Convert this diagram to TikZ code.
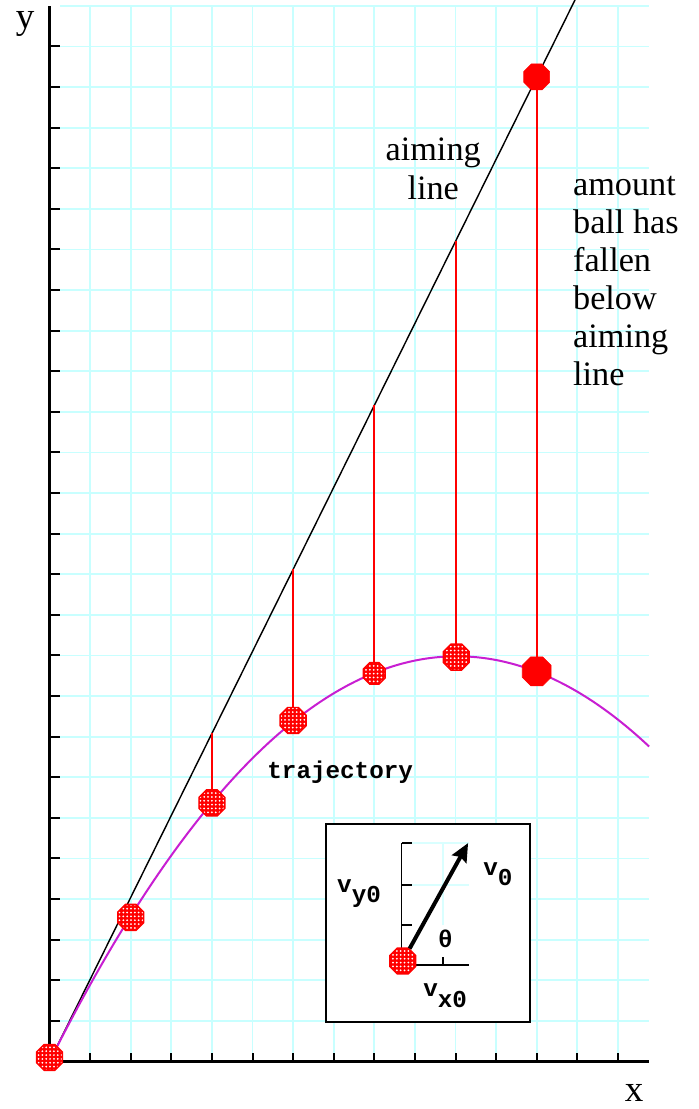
\documentclass[tikz,border=0pt]{standalone}
\usepackage{fontspec}
\setmainfont{Liberation Serif}
\newfontfamily\monof{Liberation Mono}
\usetikzlibrary{shapes.geometric,arrows.meta,patterns.meta}
\definecolor{gridcyan}{HTML}{C8FFFF}
\definecolor{trajcol}{HTML}{C81ED2}
\definecolor{ballred}{HTML}{FF0000}
\begin{document}
\begin{tikzpicture}[x=1cm,y=1cm,
  gridline/.style={draw=gridcyan, line width=1.3pt},
  minigrid/.style={draw=gridcyan!70, line width=1pt},
  axisline/.style={draw=black, line width=1.6pt},
  tickmark/.style={draw=black, line width=1.4pt},
  smallaxis/.style={draw=black, line width=1pt},
  ball/.style={shape=regular polygon, regular polygon sides=8, minimum size=0.69cm, inner sep=0pt,
    preaction={fill=ballred}, pattern={Dots[distance=2.7pt,radius=0.7pt]}, pattern color=white,
    draw=ballred, line width=1pt},
  solidball/.style={shape=regular polygon, regular polygon sides=8, minimum size=0.69cm, inner sep=0pt,
    draw=ballred, fill=ballred},
  drop/.style={draw=ballred, line width=1.4pt},
  aimline/.style={draw=black, line width=1pt},
  trajline/.style={draw=trajcol, line width=1.4pt},
  serif/.style={font=\fontsize{24}{26.6}\selectfont, inner sep=0pt},
  axislabel/.style={font=\fontsize{26}{30}\selectfont, inner sep=0pt},
  mono/.style={font=\monof\bfseries\fontsize{17}{20}\selectfont, inner sep=0pt},
]
\useasboundingbox (-1.2192,-1.170) rectangle (15.973,26.145);
\fill[white] (-1.2192,-1.170) rectangle (15.973,26.145);

% grid
\foreach \i in {1,...,14} \draw[gridline] (\i,0) -- (\i,26);
\foreach \j in {1,...,26} \draw[gridline] (0.27,\j) -- (14.77,\j);

% axes
\coordinate (O) at (0,0);
\coordinate (ytop) at (0,26);
\coordinate (xend) at (14.77,0);
\draw[axisline] (O) -- (ytop);
\draw[axisline] (O) -- (xend);
\foreach \j in {1,...,25} \draw[tickmark] (0,\j) -- ++(0.25,0);
\foreach \i in {1,...,14} \draw[tickmark] (\i,0) -- ++(0,0.2);
\node[axislabel] (ylab) at (-0.6,25.55) {y};
\node[axislabel] (xlab) at (14.4,-0.78) {x};

% aiming line and trajectory
\coordinate (aimtop) at (12.943,26.145);
\draw[aimline] (O) -- (aimtop);
\draw[trajline] plot[domain=0:14.77, samples=150] (\x,{1.9894*\x-0.09913*\x*\x});

% points on the aiming line and on the trajectory
\coordinate (a4) at (4,8.08);
\coordinate (a6) at (6,12.12);
\coordinate (a8) at (8,16.16);
\coordinate (a10) at (10.02,20.22);
\coordinate (a12c) at (12,24.25);
\coordinate (t4) at (4,6.37);
\coordinate (t6) at (6,8.40);
\coordinate (t8) at (8,9.56);
\coordinate (t10) at (10.02,9.96);
\coordinate (t12) at (12,9.61);

% drop lines (drawn first, covered by the balls)
\draw[drop] (a4) -- (t4);
\draw[drop] (a6) -- (t6);
\draw[drop] (a8) -- (t8);
\draw[drop] (a10) -- (t10);
\draw[drop] (a12c) -- (t12);

% balls
\node[ball] (b0) at (0,0.1) {};
\node[ball] (b2) at (2,3.55) {};
\node[ball] (b4) at (t4) {};
\node[ball] (b6) at (t6) {};
\node[ball, minimum size=0.58cm] (b8) at (t8) {};
\node[ball] (b10) at (t10) {};
\node[solidball, minimum size=0.77cm] (b12) at (t12) {};
\node[solidball] (a12) at (a12c) {};

% labels
\node[serif, align=center, anchor=north, font=\fontsize{24}{27.3}\selectfont] (aimlab) at (9.45,22.75) {aiming\\line};
\node[serif, align=left, anchor=north west] (fallen) at (12.89,21.8) {amount\\ball has\\fallen\\below\\aiming\\line};
\node[mono, anchor=base west] (trajlab) at (5.36,6.98) {trajectory};

% inset
\node[draw=black, fill=white, line width=1.4pt, minimum width=5.02cm, minimum height=4.88cm, inner sep=0pt] (inset) at (9.33,3.41) {};
\coordinate (ivb) at (8.675,2.377);
\coordinate (ivt) at (8.675,5.38);
\coordinate (ihe) at (10.33,2.377);
\draw[minigrid] (8.675,5.38) -- (10.33,5.38);
\draw[minigrid] (8.675,4.35) -- (10.33,4.35);
\draw[minigrid] (9.69,3.36) -- (9.69,5.38);
\draw[smallaxis] (ivb) -- (ivt);
\draw[smallaxis] (ivb) -- (ihe);
\foreach \y in {5.38,4.35,3.36} \draw[smallaxis] (8.675,\y) -- ++(0.25,0);
\draw[smallaxis] (9.69,2.377) -- ++(0,0.2);
\node[ball] (ib) at (8.70,2.475) {};
\coordinate (tip) at (10.31,5.38);
\draw[line width=2.8pt, -{Stealth[length=0.45cm,width=0.4cm,inset=0.06cm]}] (ib) -- (tip);
\node[mono, anchor=base west] (vy) at (7.08,4.17) {v\raisebox{-7.5pt}{y0}};
\node[mono, anchor=base west] (vzero) at (10.68,4.59) {v\raisebox{-7.5pt}{0}};
\node[mono, anchor=base] (theta) at (9.75,2.82) {θ};
\node[mono, anchor=base west] (vx) at (9.2,1.59) {v\raisebox{-7.5pt}{x0}};
\end{tikzpicture}
\end{document}
